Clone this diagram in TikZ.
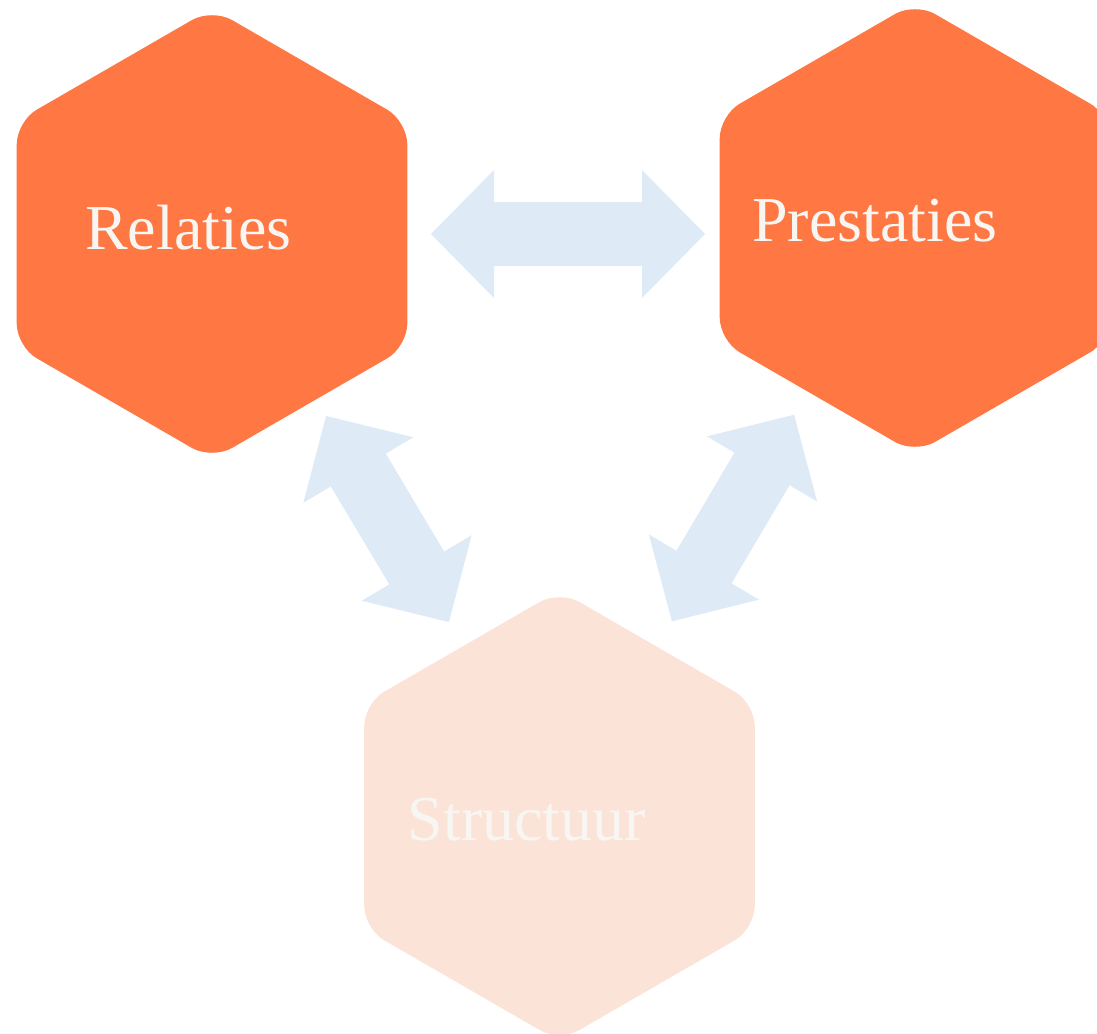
\documentclass[tikz,border=0pt]{standalone}
\usepackage{fontspec}
\setmainfont{Liberation Serif}
\definecolor{hexorange}{RGB}{255,119,67}
\definecolor{hexpink}{RGB}{252,227,216}
\definecolor{arrowblue}{RGB}{222,234,246}
\definecolor{labelwhite}{RGB}{248,246,242}
\newcommand\hexoutline{(90:225.5) -- (30:225.5) -- (-30:225.5) -- (-90:225.5) -- (-150:225.5) -- (150:225.5) -- cycle}
\newcommand\dblarrowoutline[1]{(-#1,0) -- (-#1+63,-64) -- (-#1+63,-32) -- (#1-63,-32) -- (#1-63,-64) -- (#1,0) -- (#1-63,64) -- (#1-63,32) -- (-#1+63,32) -- (-#1+63,64) -- cycle}
\begin{document}
\begin{tikzpicture}[x=1pt,y=-1pt,
  hexbox/.style={rounded corners=23pt},
  hextext/.style={font=\fontsize{64}{70}\selectfont, text=labelwhite, anchor=base west, inner sep=0pt},
  blockarrow/.style={fill=arrowblue}]
\useasboundingbox (0,0) rectangle (1097,1033);
% hexagon centres
\coordinate (rel) at (212,234);
\coordinate (pre) at (915,228);
\coordinate (str) at (559.5,816);
% arrow centres
\coordinate (arrRP) at (568,234);
\coordinate (arrRS) at (387.5,519);
\coordinate (arrPS) at (733,518);
% hexagons
\fill[hexbox, fill=hexorange, shift={(rel)}] \hexoutline;
\fill[hexbox, fill=hexorange, shift={(pre)}] \hexoutline;
\fill[hexbox, fill=hexpink, shift={(str)}] \hexoutline;
% labels
\node[hextext] (relT) at (85,249.5) {Relaties};
\node[hextext] (preT) at (752,241.7) {Prestaties};
\node[hextext] (strT) at (407.5,840.7) {Structuur};
% double block arrows
\fill[blockarrow, shift={(arrRP)}] \dblarrowoutline{137};
\fill[blockarrow, shift={(arrRS)}, rotate=-59.2] \dblarrowoutline{120};
\fill[blockarrow, shift={(arrPS)}, rotate=59.4] \dblarrowoutline{120};
\end{tikzpicture}
\end{document}
